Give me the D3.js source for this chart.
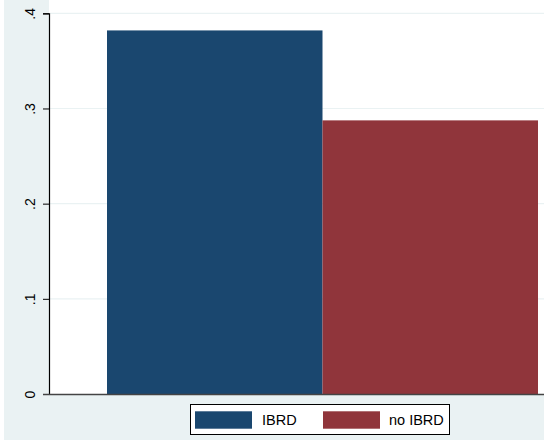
<!DOCTYPE html>
<html>
<head>
<meta charset="utf-8">
<script src="https://cdn.jsdelivr.net/npm/d3@7"></script>
<style>
  body { margin: 0; background: #ffffff; }
  text { font-family: "Liberation Sans", Arial, sans-serif; }
</style>
</head>
<body>
<div id="chart"></div>
<script>
// data
var groups = ["IBRD", "no IBRD"];
var values = [0.382, 0.2875];
var colors = ["#1a476f", "#90353b"];
var yTicks = [0, 0.1, 0.2, 0.3, 0.4];
var yTickLabels = ["0", ".1", ".2", ".3", ".4"];

var width = 544,
    height = 440;

var plotLeft = 49,
    plotRight = 544,
    plotTop = 0,
    plotBottom = 394;

var svg = d3.select("#chart")
  .append("svg")
  .attr("width", width)
  .attr("height", height);

// outer graph region (white sliver on the far left, as in the crop)
svg.append("rect")
  .attr("x", 0).attr("y", 0)
  .attr("width", width).attr("height", height)
  .attr("fill", "#ffffff");
svg.append("rect")
  .attr("x", 4).attr("y", 0)
  .attr("width", width - 4).attr("height", height)
  .attr("fill", "#eaf2f3");

// plot region
svg.append("rect")
  .attr("x", plotLeft).attr("y", plotTop)
  .attr("width", plotRight - plotLeft).attr("height", plotBottom - plotTop)
  .attr("fill", "#ffffff");

var y = d3.scaleLinear()
  .domain([0, 0.4])
  .range([plotBottom, 13.3]);

var x = d3.scaleBand()
  .domain(groups)
  .range([107, 538])
  .padding(0);

// gridlines
svg.append("g")
  .selectAll("line")
  .data(yTicks.slice(1))
  .enter()
  .append("line")
  .attr("x1", plotLeft)
  .attr("x2", plotRight)
  .attr("y1", function(d){ return y(d); })
  .attr("y2", function(d){ return y(d); })
  .attr("stroke", "#eaf2f3")
  .attr("stroke-width", 1.2);

// bars
svg.append("g")
  .selectAll("rect")
  .data(groups)
  .enter()
  .append("rect")
  .attr("x", function(d){ return x(d); })
  .attr("y", function(d, i){ return y(values[i]); })
  .attr("width", x.bandwidth())
  .attr("height", function(d, i){ return plotBottom - y(values[i]); })
  .attr("fill", function(d, i){ return colors[i]; });

// y axis
var yAxis = d3.axisLeft(y)
  .tickValues(yTicks)
  .tickFormat(function(d, i){ return yTickLabels[i]; })
  .tickSize(6)
  .tickPadding(0);

var gy = svg.append("g")
  .attr("transform", "translate(" + plotLeft + ",0)")
  .call(yAxis);
gy.select(".domain").attr("stroke", "#000").attr("stroke-width", 1.2);
gy.selectAll(".tick line").attr("stroke", "#000");
gy.selectAll(".tick text")
  .attr("x", 0)
  .attr("dy", 0)
  .attr("transform", "translate(-14,0) rotate(-90)")
  .attr("text-anchor", "middle")
  .attr("font-size", 14)
  .attr("fill", "#000");

// x axis line
svg.append("line")
  .attr("x1", plotLeft - 6)
  .attr("x2", plotRight)
  .attr("y1", plotBottom + 0.5)
  .attr("y2", plotBottom + 0.5)
  .attr("stroke", "#444")
  .attr("stroke-width", 1.6);

// legend
var legend = svg.append("g");
legend.append("rect")
  .attr("x", 190.5).attr("y", 404.5)
  .attr("width", 259).attr("height", 30)
  .attr("fill", "#ffffff")
  .attr("stroke", "#000")
  .attr("stroke-width", 1);

var keyX = [195, 323];
var labelX = [262, 389];
groups.forEach(function(g, i){
  legend.append("rect")
    .attr("x", keyX[i]).attr("y", 411.3)
    .attr("width", 57).attr("height", 17.4)
    .attr("fill", colors[i]);
  legend.append("text")
    .attr("x", labelX[i])
    .attr("y", 425)
    .attr("font-size", 14.5)
    .attr("fill", "#000")
    .text(g);
});
</script>
</body>
</html>
